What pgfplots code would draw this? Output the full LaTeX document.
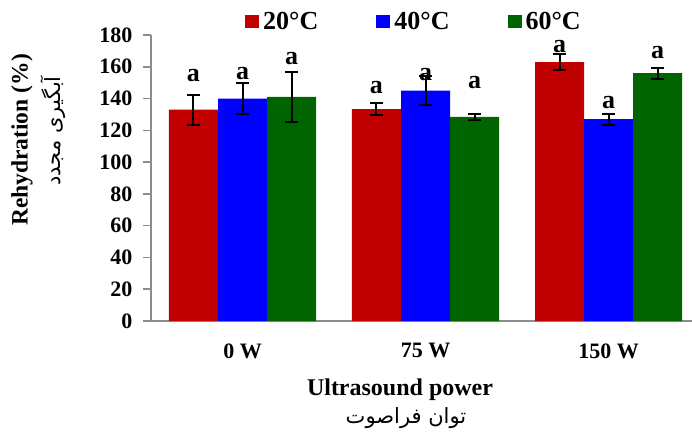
\documentclass[border=0pt]{standalone}
\usepackage{fontspec}
\setmainfont{Liberation Serif}
\newfontfamily\arabicfont[Script=Arabic]{DejaVu Sans}
\TeXXeTstate=1
\usepackage{pgfplots}
\pgfplotsset{compat=1.18}
\definecolor{cred}{RGB}{192,0,0}
\definecolor{cblue}{RGB}{0,0,255}
\definecolor{cgreen}{RGB}{0,100,0}
\definecolor{axgray}{RGB}{140,140,140}
\begin{document}
\begin{tikzpicture}[x=1pt,y=1pt]
\useasboundingbox (0,0) rectangle (692,437);
\begin{axis}[
  at={(151pt,116pt)}, anchor=south west,
  scale only axis, width=541pt, height=286pt,
  xmin=-0.5, xmax=2.456, ymin=0, ymax=180,
  axis y line*=left, axis x line*=bottom,
  axis line style={axgray, line width=1.5pt},
  xtick={0,1,2}, xticklabels={0 W,75 W,150 W},
  xtick style={draw=none},
  ytick={0,20,...,180},
  ytick style={axgray, line width=1.5pt},
  tick align=outside, major tick length=8pt,
  /pgf/number format/assume math mode=true,
  tick label style={font=\fontsize{22}{24}\selectfont\bfseries},
  xticklabel style={yshift=-11pt},
  yticklabel style={xshift=-7pt},
  clip=false,
  legend columns=3,
  legend style={draw=none, fill=none, at={(414pt-151pt,415.5pt-116pt)}, anchor=center,
    font=\fontsize{26}{28}\selectfont\bfseries,
    /tikz/every even column/.append style={column sep=56pt},
    /tikz/every odd column/.append style={column sep=2pt},
    inner sep=0pt},
  legend image code/.code={\fill[#1] (0pt,-6.5pt) rectangle (14pt,6.5pt);},
]
\addplot[ybar, bar width=49pt, bar shift=0pt, fill=cred, draw=none,
  error bars/.cd, y dir=both, y explicit,
  error bar style={black, line width=2pt}, error mark options={black, line width=2pt, mark size=6.5pt, rotate=90}]
  coordinates {(-0.268,133) +- (0,9.5) (0.732,133.4) +- (0,4) (1.732,163) +- (0,4.8)};
\addlegendentry{20°C}
\addplot[ybar, bar width=49pt, bar shift=0pt, fill=cblue, draw=none,
  error bars/.cd, y dir=both, y explicit,
  error bar style={black, line width=2pt}, error mark options={black, line width=2pt, mark size=6.5pt, rotate=90}]
  coordinates {(0,140) +- (0,9.5) (1,145) +- (0,9) (2,127) +- (0,3.5)};
\addlegendentry{40°C}
\addplot[ybar, bar width=49pt, bar shift=0pt, fill=cgreen, draw=none,
  error bars/.cd, y dir=both, y explicit,
  error bar style={black, line width=2pt}, error mark options={black, line width=2pt, mark size=6.5pt, rotate=90}]
  coordinates {(0.268,141) +- (0,15.7) (1.268,128.4) +- (0,1.8) (2.268,156) +- (0,3.5)};
\addlegendentry{60°C}
\addplot[forget plot, only marks, mark=none, point meta=explicit symbolic,
  nodes near coords, nodes near coords style={anchor=center, font=\fontsize{26}{28}\selectfont\bfseries, inner sep=0pt}]
  table[meta=lab] {
x y lab
-0.268 154.8 a
0 156 a
0.268 165.5 a
0.732 147 a
1 155.4 a
1.268 149.8 a
1.732 173 a
2 137.2 a
2.268 168.7 a
};
\end{axis}
\node[rotate=90, font=\fontsize{23.5}{25}\selectfont\bfseries] at (22,437-140) {Rehydration (\%)};
\node[rotate=90, font=\fontsize{21}{23}\selectfont\arabicfont] at (53,437-131) {\beginR آبگیری مجدد\endR};
\node[font=\fontsize{24}{26}\selectfont\bfseries] at (400,437-390) {Ultrasound power};
\node[font=\fontsize{21}{23}\selectfont\arabicfont] at (406,437-418) {\beginR توان فراصوت\endR};
\end{tikzpicture}
\end{document}
